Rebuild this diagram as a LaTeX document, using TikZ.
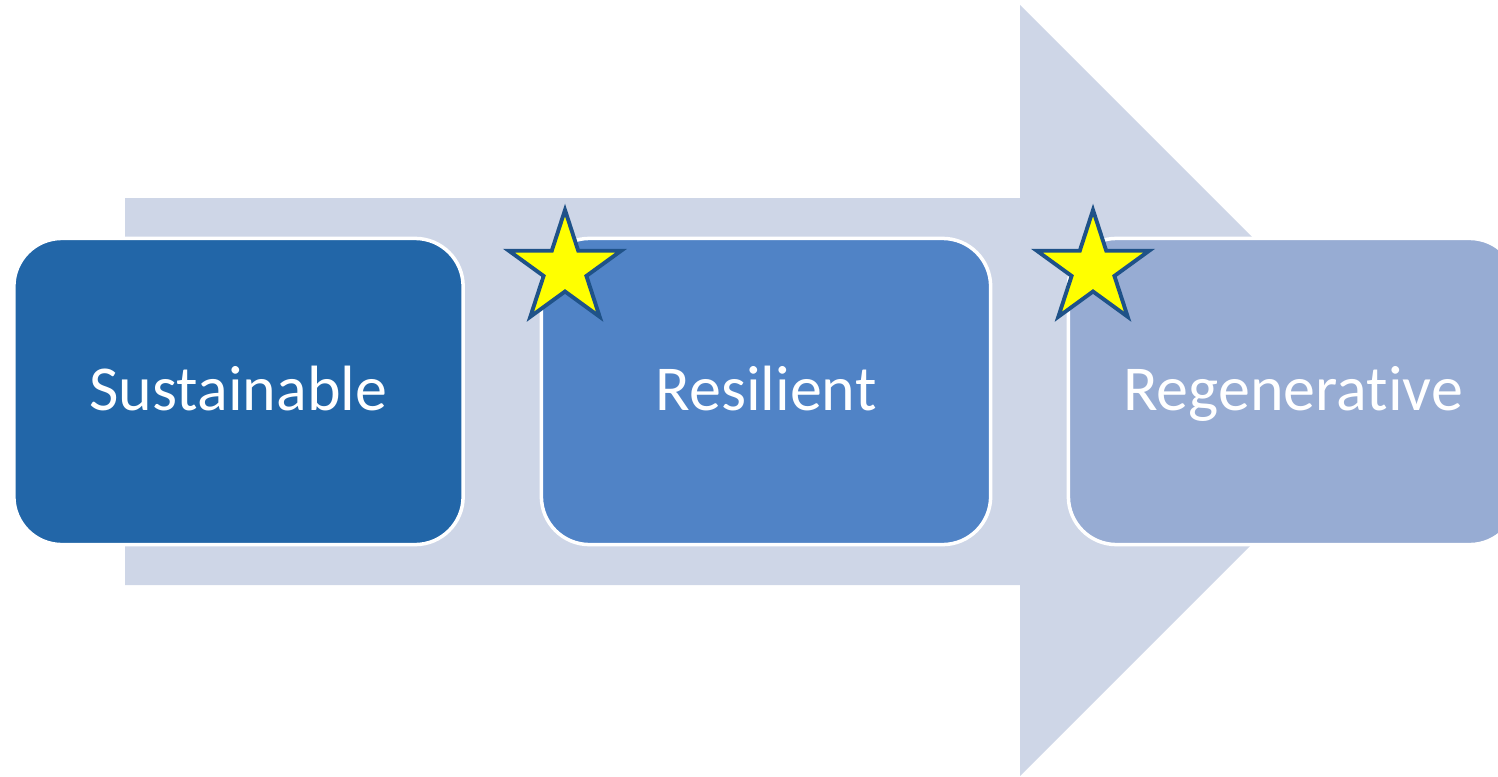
\documentclass[tikz,border=0pt]{standalone}
\usepackage{fontspec}
\setmainfont[Ligatures=NoCommon]{Carlito}
\usetikzlibrary{calc}
\definecolor{arrowfill}{HTML}{CED6E7}
\definecolor{boxA}{HTML}{2266A8}
\definecolor{boxB}{HTML}{5083C6}
\definecolor{boxC}{HTML}{97ACD3}
\definecolor{starline}{HTML}{1F5288}
\definecolor{starfill}{HTML}{FFFF00}
\begin{document}
\begin{tikzpicture}[x=0.01cm,y=-0.01cm,
  stagebox/.style={draw=white, line width=1pt, rounded corners=0.48cm,
    minimum width=4.49cm, minimum height=3.06cm, inner sep=0pt,
    text=white, font=\fontsize{18.2}{22}\selectfont,
    text height=0.37cm, text depth=0cm},
  starshape/.style={draw=starline, fill=starfill, line width=1.1pt, line join=miter}]
\useasboundingbox (0,0) rectangle (1498,776);
% big arrow
\fill[arrowfill] (125,198) -- (1020,198) -- (1020,5) -- (1405.5,390.5) -- (1020,776) -- (1020,585) -- (125,585) -- cycle;
% boxes
\node[stagebox, fill=boxA] (sus) at (238.5,391.5) {Sustainable};
\node[stagebox, fill=boxB] (res) at (766,391.5) {Resilient};
\node[stagebox, fill=boxC] (reg) at (1293,391.5) {Regenerative};
% stars
\foreach \cx/\nm in {565/starA,1093/starB}{
  \coordinate (\nm) at (\cx,269);
  \draw[starshape] ($(\nm)+(0,-59)$)
    \foreach \k [evaluate=\k as \r using {mod(\k,2)==0 ? 59 : 22.5}] in {1,...,9}{
      -- ($(\nm)+({\r*sin(36*\k)},{-\r*cos(36*\k)})$)
    } -- cycle;
}
\end{tikzpicture}
\end{document}
